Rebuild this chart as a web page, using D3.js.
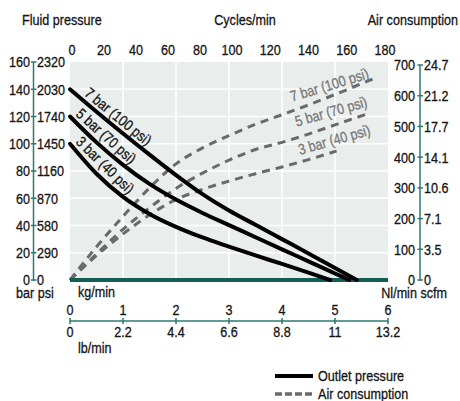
<!DOCTYPE html>
<html>
<head>
<meta charset="utf-8">
<script src="https://cdn.jsdelivr.net/npm/d3@7/dist/d3.min.js"></script>
<style>
  html, body { margin: 0; padding: 0; background: #fff; }
  svg { display: block; }
  text { font-family: "Liberation Sans", Arial, sans-serif; fill: #141414; stroke: #141414; stroke-width: 0.3px; }
</style>
</head>
<body>
<script>
// Axis ticks
const kgTicks = [0, 1, 2, 3, 4, 5, 6];
const lbTicks = ["0", "2.2", "4.4", "6.6", "8.8", "11", "13.2"];
const barTicks = [0, 20, 40, 60, 80, 100, 120, 140, 160];
const psiTicks = ["0", "290", "580", "870", "1160", "1450", "1740", "2030", "2320"];
const nlTicks = [0, 100, 200, 300, 400, 500, 600, 700];
const scfmTicks = ["0", "3.5", "7.1", "10.6", "14.1", "17.7", "21.2", "24.7"];
const cycleTicks = [0, 20, 40, 60, 80, 100, 120, 140, 160, 180];

// Outlet pressure (bar) against flow (kg/min)
const outlet7 = [[0, 140], [0.5, 123.5], [1, 107.5], [1.5, 92], [2, 77], [2.5, 63], [3, 51], [3.5, 40.5], [4, 30], [4.5, 19.5], [5, 8.8], [5.41, 0]];
const outlet5 = [[0, 120], [0.5, 101], [1, 84.5], [1.5, 70.5], [2, 59], [2.5, 49.2], [3, 40.3], [3.5, 31.4], [4, 22.5], [4.5, 13.7], [5, 4.8], [5.27, 0]];
const outlet3 = [[0, 100], [0.5, 78], [1, 61], [1.5, 48.5], [2, 39], [2.5, 31.2], [3, 24.5], [3.5, 18], [4, 11.8], [4.5, 5.4], [4.91, 0]];

// Air consumption (Nl/min) against flow (kg/min)
const air7 = [[0, 0], [0.5, 108], [1, 207], [1.5, 300], [2, 378], [2.5, 430], [3, 470], [3.5, 507], [4, 538], [4.5, 570], [5, 604], [5.72, 655]];
const air5 = [[0, 0], [0.5, 85], [1, 165], [1.5, 235], [2, 298], [2.5, 348], [3, 390], [3.5, 425], [4, 448], [4.5, 475], [5, 505], [5.63, 542]];
const air3 = [[0, 0], [0.5, 80], [1, 150], [1.5, 212], [2, 262], [2.5, 295], [3, 322], [3.5, 346], [4, 368], [4.5, 392], [5.03, 420]];

const pressureSeries = [
  { name: "7 bar (100 psi)", data: outlet7, along: 14 },
  { name: "5 bar (70 psi)", data: outlet5, along: 3 },
  { name: "3 bar (40 psi)", data: outlet3, along: 3 }
];
const airSeries = [
  { name: "7 bar (100 psi)", data: air7, labelAt: [4.19, 580], angle: -17 },
  { name: "5 bar (70 psi)", data: air5, labelAt: [4.28, 499], angle: -16 },
  { name: "3 bar (40 psi)", data: air3, labelAt: [4.34, 407], angle: -16 }
];

const W = 460, H = 401;
const teal = "#2b7a70", darkTeal = "#135d55", gray = "#6a6a6a";
const FS = 15;      // label size
const K = 0.84;     // horizontal squeeze for condensed lettering

const svg = d3.select("body").append("svg").attr("width", W).attr("height", H);

// Condensed text helper: squeezes glyphs horizontally around the anchor point
function ntext(parent, str, px, py, opt = {}) {
  const t = parent.append("text")
    .attr("transform", `translate(${px},${py}) rotate(${opt.angle || 0}) scale(${K},1)`)
    .attr("font-size", opt.size || FS)
    .attr("text-anchor", opt.anchor || "start")
    .text(str);
  if (opt.dy) t.attr("dy", opt.dy);
  if (opt.fill) t.style("fill", opt.fill).style("stroke", opt.fill);
  return t;
}

const x = d3.scaleLinear().domain([0, 6]).range([70, 388]);
const yP = d3.scaleLinear().domain([0, 160]).range([280, 62]);
const yA = d3.scaleLinear().domain([0, 700]).range([280, 65]);
// Pump speed scale along the top edge (spacing widens towards high speeds)
const xC = d3.scaleLinear().domain([0, 100, 180]).range([72, 232, 385]);

// Plot panel and grid
svg.append("rect")
  .attr("x", x(0)).attr("y", yP(160))
  .attr("width", x(6) - x(0)).attr("height", yP(0) - yP(160))
  .attr("fill", "#e9eeed");

svg.append("g").selectAll("line").data(kgTicks.slice(1, -1)).join("line")
  .attr("x1", d => x(d)).attr("x2", d => x(d))
  .attr("y1", yP(160)).attr("y2", yP(0))
  .attr("stroke", "#fff").attr("stroke-width", 1.5);

svg.append("g").selectAll("line").data(barTicks.slice(1, -1)).join("line")
  .attr("x1", x(0)).attr("x2", x(6))
  .attr("y1", d => yP(d)).attr("y2", d => yP(d))
  .attr("stroke", "#fff").attr("stroke-width", 1.5);

// Titles
const titles = svg.append("g");
ntext(titles, "Fluid pressure", 22, 25);
ntext(titles, "Cycles/min", 245, 25, { anchor: "middle" });
ntext(titles, "Air consumption", 458, 25, { anchor: "end" });

// Cycles/min labels
const cycleG = svg.append("g");
cycleTicks.forEach(c => ntext(cycleG, c, xC(c), 55, { anchor: "middle" }));

// Left pressure axis
const leftG = svg.append("g");
leftG.append("line").attr("x1", 33.5).attr("x2", 33.5).attr("y1", yP(160)).attr("y2", yP(0) + 1)
  .attr("stroke", teal).attr("stroke-width", 1.5);
leftG.selectAll(".tk").data(barTicks).join("line").attr("class", "tk")
  .attr("x1", 31).attr("x2", 36.5).attr("y1", d => yP(d)).attr("y2", d => yP(d))
  .attr("stroke", teal).attr("stroke-width", 1.5);
barTicks.forEach((b, i) => {
  ntext(leftG, b, 30, yP(b), { anchor: "end", dy: "0.36em" });
  ntext(leftG, psiTicks[i], 37, yP(b), { dy: "0.36em" });
});
ntext(leftG, "bar psi", 16, 298);

// Right air axis
const rightG = svg.append("g");
rightG.append("line").attr("x1", 420).attr("x2", 420).attr("y1", yA(700)).attr("y2", yA(0) + 1)
  .attr("stroke", teal).attr("stroke-width", 1.5);
rightG.selectAll(".tk").data(nlTicks).join("line").attr("class", "tk")
  .attr("x1", 417.5).attr("x2", 423).attr("y1", d => yA(d)).attr("y2", d => yA(d))
  .attr("stroke", teal).attr("stroke-width", 1.5);
nlTicks.forEach((n, i) => {
  ntext(rightG, n, 415, yA(n), { anchor: "end", dy: "0.36em" });
  ntext(rightG, scfmTicks[i], 424, yA(n), { dy: "0.36em" });
});
ntext(rightG, "Nl/min scfm", 447, 298, { anchor: "end" });

// Bottom flow axis (kg/min above, lb/min below)
const bottomG = svg.append("g");
const axisY = 321;
bottomG.append("line").attr("x1", x(0)).attr("x2", x(6)).attr("y1", axisY).attr("y2", axisY)
  .attr("stroke", teal).attr("stroke-width", 1.5);
bottomG.selectAll(".tk").data(kgTicks).join("line").attr("class", "tk")
  .attr("x1", d => x(d)).attr("x2", d => x(d)).attr("y1", axisY - 3).attr("y2", axisY + 3)
  .attr("stroke", teal).attr("stroke-width", 1.5);
kgTicks.forEach((k, i) => {
  ntext(bottomG, k, x(k), 315, { anchor: "middle" });
  ntext(bottomG, lbTicks[i], x(k), 337, { anchor: "middle" });
});
ntext(bottomG, "kg/min", 78, 297);
ntext(bottomG, "lb/min", 78, 353);

// Curves
const linePressure = d3.line().x(d => x(d[0])).y(d => yP(d[1])).curve(d3.curveMonotoneX);
const lineAir = d3.line().x(d => x(d[0])).y(d => yA(d[1])).curve(d3.curveMonotoneX);

const airG = svg.append("g");
airSeries.forEach(s => {
  airG.append("path").attr("d", lineAir(s.data))
    .attr("fill", "none").attr("stroke", gray).attr("stroke-width", 3)
    .attr("stroke-dasharray", "8,6");
  ntext(airG, s.name, x(s.labelAt[0]), yA(s.labelAt[1]), { angle: s.angle, fill: "#777" });
});

// Baseline
svg.append("line").attr("x1", x(0)).attr("x2", x(6)).attr("y1", yP(0)).attr("y2", yP(0))
  .attr("stroke", darkTeal).attr("stroke-width", 4);

const presG = svg.append("g");
pressureSeries.forEach(s => {
  const path = presG.append("path").attr("d", linePressure(s.data))
    .attr("fill", "none").attr("stroke", "#000").attr("stroke-width", 4)
    .attr("stroke-linecap", "round");
  // Label runs along the chord of the curve, just above the stroke
  const node = path.node();
  const p0 = node.getPointAtLength(s.along);
  const p1 = node.getPointAtLength(s.along + 75);
  const a = Math.atan2(p1.y - p0.y, p1.x - p0.x);
  const off = 4.5;
  ntext(presG, s.name, p0.x + off * Math.sin(a), p0.y - off * Math.cos(a), { angle: a * 180 / Math.PI });
});

// Legend
const legend = svg.append("g");
legend.append("line").attr("x1", 275).attr("x2", 313).attr("y1", 376).attr("y2", 376)
  .attr("stroke", "#000").attr("stroke-width", 4);
ntext(legend, "Outlet pressure", 318, 381);
legend.append("line").attr("x1", 275).attr("x2", 313).attr("y1", 394).attr("y2", 394)
  .attr("stroke", gray).attr("stroke-width", 3.5).attr("stroke-dasharray", "7,3");
ntext(legend, "Air consumption", 318, 399);
</script>
</body>
</html>
